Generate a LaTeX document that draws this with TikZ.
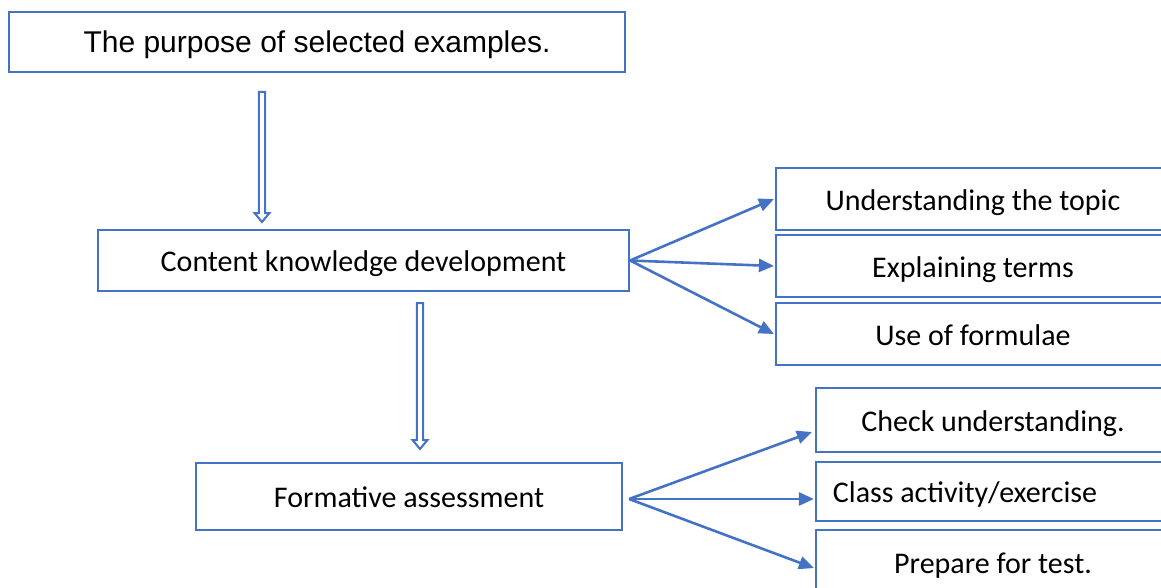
\documentclass[tikz,border=0pt]{standalone}
\usepackage{fontspec}
\setmainfont{Carlito}
\newfontfamily\arialfont{Liberation Sans}
\usetikzlibrary{arrows.meta}
\definecolor{officeblue}{HTML}{4472C4}
\tikzset{
  box/.style={draw=officeblue, line width=2.2pt, rectangle, inner sep=0pt,
    text height=26pt, text depth=4pt,
    font=\fontsize{30}{34}\selectfont, text=black},
  link/.style={draw=officeblue, line width=2.6pt,
    -{Triangle[length=15pt,width=13pt]}},
  hollowarrow/.style={draw=officeblue, line width=2pt, line join=miter,
    to path={([xshift=-3.2pt]\tikztostart) -- ([xshift=-3.2pt,yshift=9pt]\tikztotarget)
      -- ([xshift=-7.5pt,yshift=9pt]\tikztotarget) -- (\tikztotarget)
      -- ([xshift=7.5pt,yshift=9pt]\tikztotarget) -- ([xshift=3.2pt,yshift=9pt]\tikztotarget)
      -- ([xshift=3.2pt]\tikztostart) -- cycle}}
}
\begin{document}
\begin{tikzpicture}[x=1pt,y=-1pt]
\useasboundingbox (0,0) rectangle (1161,588);
\clip (0,0) rectangle (1161,588);

% main column
\node[box, minimum width=616pt, minimum height=60pt, font=\arialfont\fontsize{30}{34}\selectfont]
  (purpose) at (317,42) {The purpose of selected examples.};
\node[box, minimum width=531pt, minimum height=61pt] (ckd) at (363.5,260.5) {Content knowledge development};
\node[box, minimum width=426pt, minimum height=67pt] (fa) at (409,496.5) {Formative assessment};

% first group of outcomes
\node[box, minimum width=394pt, minimum height=62pt] (r1) at (973,199) {Understanding the topic};
\node[box, minimum width=394pt, minimum height=62pt] (r2) at (973,266) {Explaining terms};
\node[box, minimum width=394pt, minimum height=62pt] (r3) at (973,334) {Use of formulae};

% second group of outcomes
\node[box, minimum width=354pt, minimum height=64pt] (s1) at (993,420) {Check understanding.};
\node[box, minimum width=354pt, minimum height=59pt] (s2) at (993,491.5) {\hspace*{-56pt}Class activity/exercise};
\node[box, minimum width=354pt, minimum height=64pt] (s3) at (993,562) {Prepare for test.};

% hollow down arrows
\coordinate (d1s) at (262,92);
\coordinate (d1e) at (262,222);
\coordinate (d2s) at (420,303);
\coordinate (d2e) at (420,449);
\draw[hollowarrow] (d1s) to (d1e);
\draw[hollowarrow] (d2s) to (d2e);

% fan-out connectors
\draw[link] (ckd.east) -- ([xshift=-1pt]r1.west);
\draw[link] (ckd.east) -- ([xshift=-1pt]r2.west);
\draw[link] (ckd.east) -- ([xshift=-1pt]r3.west);
\draw[link] ([xshift=6pt,yshift=-2.5pt]fa.east) -- ([xshift=-3pt,yshift=-12pt]s1.west);
\draw[link] ([xshift=6pt,yshift=-2.5pt]fa.east) -- ([xshift=-1pt,yshift=-7.5pt]s2.west);
\draw[link] ([xshift=6pt,yshift=-2.5pt]fa.east) -- ([xshift=-1pt,yshift=-6pt]s3.west);
\end{tikzpicture}
\end{document}
